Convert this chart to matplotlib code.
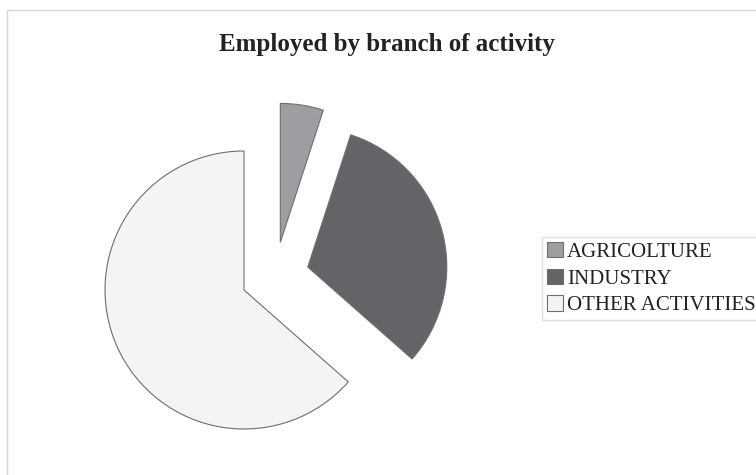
import matplotlib.pyplot as plt
from matplotlib.patches import Rectangle

# employed by branch of activity, percent
labels = ['AGRICOLTURE', 'INDUSTRY', 'OTHER ACTIVITIES']
shares = [5.0, 31.5, 63.5]
colors = ['#9d9ea2', '#636468', '#f4f4f4']

W, H = 756, 475
fig = plt.figure(figsize=(W / 100, H / 100), dpi=100)
fig.patch.set_facecolor('white')
ax = fig.add_axes([0, 0, 1, 1])

# thin frame of the chart area, running off the right and bottom edges
ax.add_patch(Rectangle((7, -20), W + 20, H - 10 + 20, fill=False,
                       edgecolor='#d6d6d6', linewidth=1.0))

# explode is in data units here (pixels), radius 139
wedges, _ = ax.pie(shares, colors=colors, startangle=90, counterclock=False,
                   explode=[34] * 3, center=(275, H - 276), radius=139,
                   wedgeprops=dict(edgecolor='#6e6e6e', linewidth=0.8),
                   frame=True)
ax.set_xlim(0, W)
ax.set_ylim(0, H)
ax.set_aspect('equal')
ax.axis('off')

ax.text(387, H - 44, 'Employed by branch of activity', ha='center', va='center',
        fontsize=18, fontweight='bold', family='Liberation Serif', color='#222222')

leg = fig.legend(wedges, labels, loc='upper left',
                 bbox_to_anchor=(542 / W, 1 - 237 / H),
                 prop=dict(family='Liberation Serif', size=15),
                 frameon=True, fancybox=False, edgecolor='#d6d6d6',
                 handlelength=0.75, handleheight=0.75, handletextpad=0.2,
                 labelspacing=0.32, borderpad=0.25, borderaxespad=0)
for t in leg.get_texts():
    t.set_color('#222222')

fig.savefig('out.png', dpi=100)
